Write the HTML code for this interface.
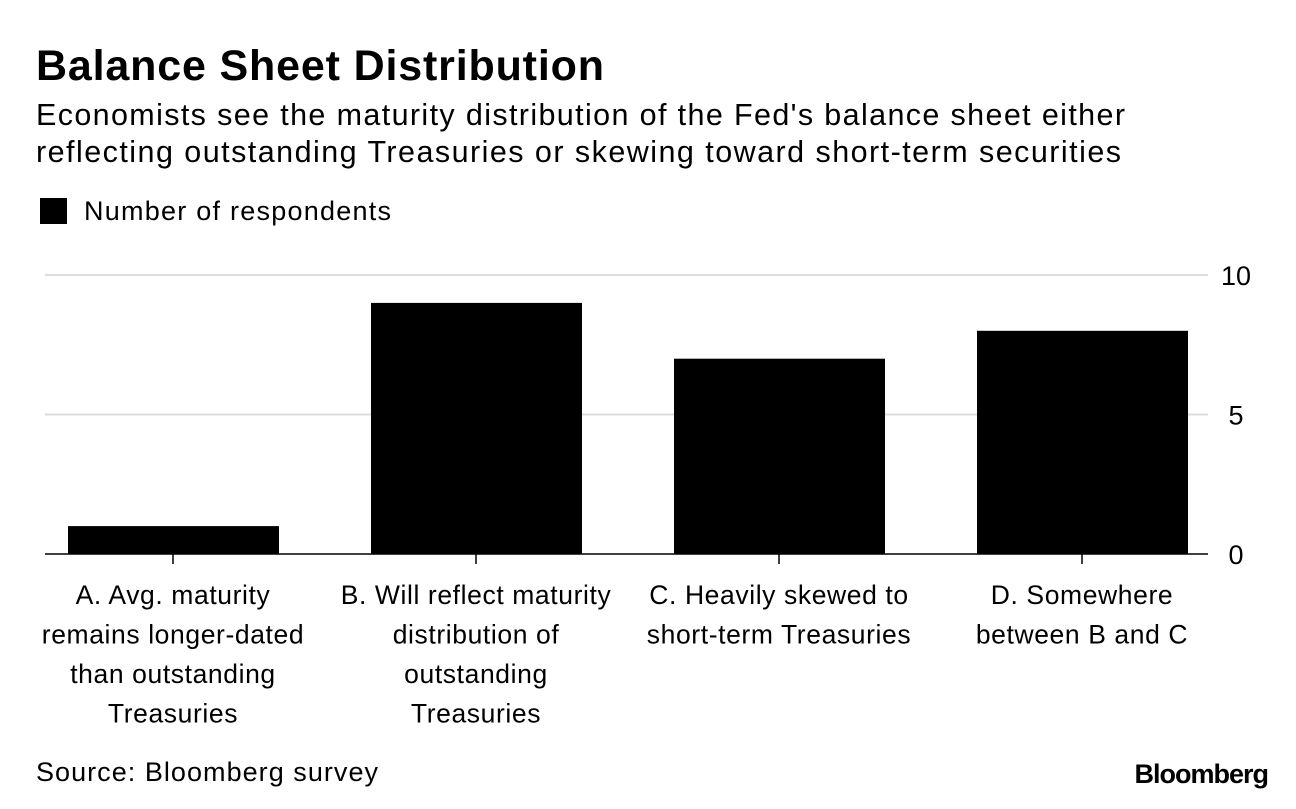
<!DOCTYPE html>
<html><head><meta charset="utf-8"><style>
body{margin:0;background:#fff;width:1296px;height:804px;overflow:hidden;font-family:"Liberation Sans",Arial,sans-serif;color:#000}
</style></head><body>
<svg width="1296" height="804" xmlns="http://www.w3.org/2000/svg" font-family="Liberation Sans, Arial, sans-serif">
<text x="36" y="80" font-size="43" font-weight="bold" textLength="568" lengthAdjust="spacing">Balance Sheet Distribution</text>
<text x="36" y="125" font-size="30.5" textLength="1089" lengthAdjust="spacing">Economists see the maturity distribution of the Fed's balance sheet either</text>
<text x="36" y="162" font-size="30.5" textLength="1085" lengthAdjust="spacing">reflecting outstanding Treasuries or skewing toward short-term securities</text>
<rect x="40" y="198" width="27" height="26" fill="#000"/>
<text x="84" y="220" font-size="27" textLength="307" lengthAdjust="spacing">Number of respondents</text>
<g id="plot"></g>
<text x="36" y="781" font-size="27" textLength="342" lengthAdjust="spacing">Source: Bloomberg survey</text>
<text x="1268" y="783" font-size="27" font-weight="bold" text-anchor="end" letter-spacing="-1">Bloomberg</text>
</svg>
<script>
const categories=[["A. Avg. maturity","remains longer-dated","than outstanding","Treasuries"],["B. Will reflect maturity","distribution of","outstanding","Treasuries"],["C. Heavily skewed to","short-term Treasuries"],["D. Somewhere","between B and C"]];
const values=[1,9,7,8];
const ticks=[0,5,10];
const NS="http://www.w3.org/2000/svg";
const g=document.getElementById('plot');
const y0=554,y10=275,x0=45,x1=1208,step=303,barW=211,firstCenter=173;
const y=v=>y0-(y0-y10)*v/10;
const cx=i=>firstCenter+i*step;
function mk(t,a){const e=document.createElementNS(NS,t);for(const k in a)e.setAttribute(k,a[k]);g.appendChild(e);return e;}
ticks.forEach(t=>{
 const l=mk('line',{x1:x0,x2:x1,y1:y(t),y2:y(t),stroke:t===0?'#000':'#dcdcdc','stroke-width':t===0?1.5:2});
 
 
 const tx=mk('text',{x:1236,y:y(t)+10,'font-size':27,'text-anchor':'middle'});tx.textContent=t;
 
 
});
values.forEach((v,i)=>{
 const r=mk('rect',{x:cx(i)-barW/2+0.5,y:y(v),width:barW,height:y0-y(v),fill:'#000'});
 
 
 const tk=mk('line',{x1:cx(i),x2:cx(i),y1:y0,y2:y0+10,stroke:'#000','stroke-width':1.5});
 
 
 categories[i].forEach((s,j)=>{
  const t=mk('text',{x:cx(i),y:604+j*39.5,'font-size':26.5,'letter-spacing':0.6,'text-anchor':'middle'});t.textContent=s;
  
  
 });
});
</script>
</body></html>
